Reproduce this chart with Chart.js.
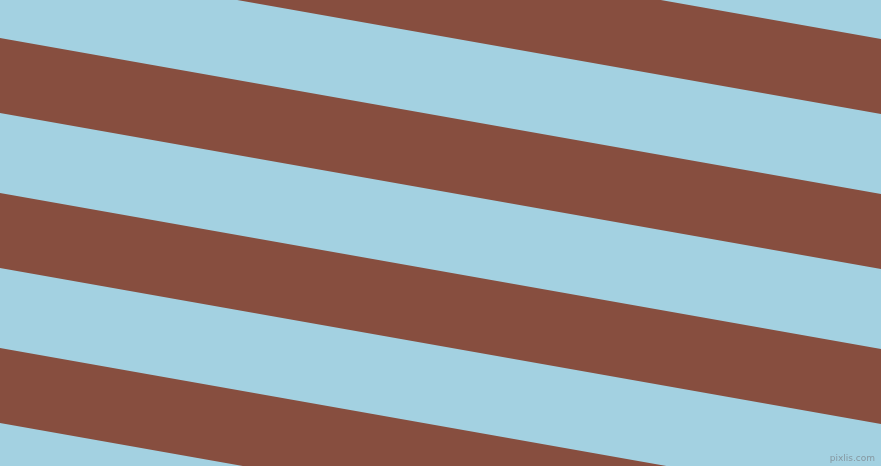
<!DOCTYPE html>
<html>
<head>
<meta charset="utf-8">
<script src="https://cdn.jsdelivr.net/npm/chart.js@4/dist/chart.umd.min.js"></script>
<style>
    html, body { margin: 0; padding: 0; background: #a3d1e1; overflow: hidden; }
    #wrap { position: relative; width: 881px; height: 466px; }
    #mark {
        position: absolute; right: 6px; bottom: 3px;
        font: 9px "DejaVu Sans", sans-serif; color: #8698a1;
    }
</style>
</head>
<body>
<div id="wrap">
    <canvas id="stripes" width="881" height="466"></canvas>
    <div id="mark">pixlis.com</div>
</div>
<script>
// x positions of the two ends of every edge line
const edgeX = [0, 881];

// brown band edges (y in px from top), read at the left and right edge
const brownTopLeft = [-117, 38, 193, 348, 503];
const brownTopRight = [39, 194, 349, 504, 659];
const brownBottomLeft = [-42, 113, 268, 423, 578];
const brownBottomRight = [114, 269, 424, 579, 734];

const brown = "#874e3f";

const datasets = [];
brownTopLeft.forEach((_, i) => {
    // upper edge, filled down to the lower edge that follows it
    datasets.push({
        data: [
            { x: edgeX[0], y: brownTopLeft[i] },
            { x: edgeX[1], y: brownTopRight[i] }
        ],
        borderWidth: 0,
        pointRadius: 0,
        backgroundColor: brown,
        fill: "+1"
    });
    datasets.push({
        data: [
            { x: edgeX[0], y: brownBottomLeft[i] },
            { x: edgeX[1], y: brownBottomRight[i] }
        ],
        borderWidth: 0,
        pointRadius: 0,
        fill: false
    });
});

new Chart(document.getElementById("stripes"), {
    type: "line",
    data: { datasets },
    options: {
        responsive: false,
        animation: false,
        layout: { padding: 0 },
        plugins: { legend: { display: false }, tooltip: { enabled: false } },
        scales: {
            x: { type: "linear", min: 0, max: 881, display: false },
            y: { type: "linear", min: 0, max: 466, reverse: true, display: false }
        }
    }
});
</script>
</body>
</html>
